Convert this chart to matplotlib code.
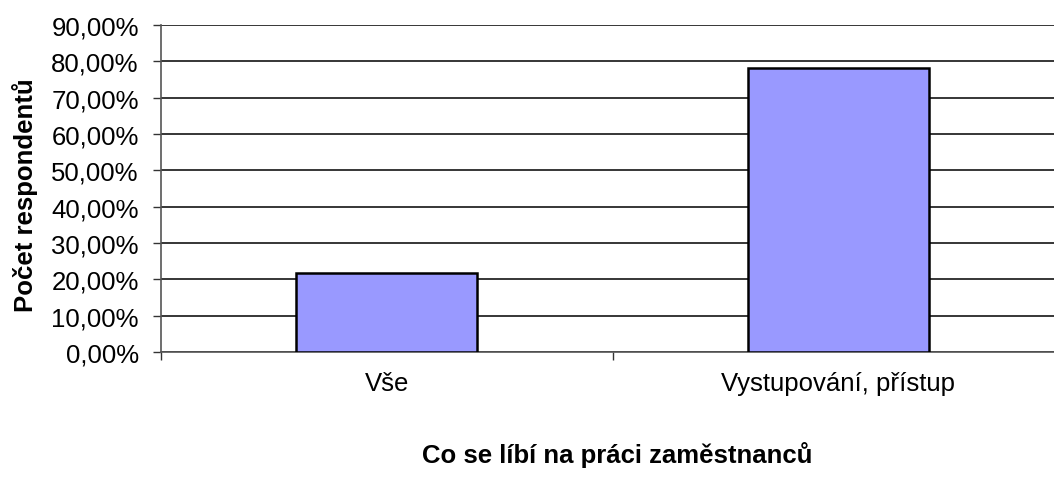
import matplotlib.pyplot as plt
from matplotlib.ticker import FuncFormatter

categories = ["Vše", "Vystupování, přístup"]
values = [21.7, 78.3]
yticks = list(range(0, 100, 10))

plt.rcParams['font.family'] = ['Liberation Sans', 'DejaVu Sans']

fig = plt.figure(figsize=(10.54, 4.81), dpi=100)
# plocha grafu je vpravo oříznutá jako v originále
ax = fig.add_axes([161 / 1054, 128 / 481, 903 / 1054, 327 / 481])

x = range(len(categories))
ax.bar(x, values, width=0.40, color="#9999FF", edgecolor="black", linewidth=1.8, zorder=3)

ax.set_ylim(0, 90)
ax.set_xlim(-0.5, 1.5)
ax.set_yticks(yticks)
ax.yaxis.set_major_formatter(FuncFormatter(lambda v, p: "{:.2f}%".format(v).replace(".", ",")))
ax.grid(axis="y", color="black", linewidth=1.1, zorder=0)

# tiky mezi kategoriemi, popisky uprostřed
ax.set_xticks([-0.5, 0.5, 1.5])
ax.set_xticklabels([])
ax.set_xticks(list(x), minor=True)
ax.set_xticklabels(categories, minor=True)
ax.tick_params(axis="x", which="major", length=6, width=1, color="#333333", direction="out")
ax.tick_params(axis="x", which="minor", length=0, pad=14, labelsize=18.5)
ax.tick_params(axis="y", length=6, width=1, color="#333333", pad=10, labelsize=18.5)

for s in ["top", "right"]:
    ax.spines[s].set_visible(False)
ax.spines["left"].set_color("#555555")
ax.spines["bottom"].set_color("#555555")
ax.spines["left"].set_linewidth(1.2)
ax.spines["bottom"].set_linewidth(1.2)

fig.text(25 / 1054, 1 - 195 / 481, "Počet respondentů", rotation=90, fontsize=18.5,
         fontweight="bold", ha="center", va="center")
fig.text(617 / 1054, 1 - 455 / 481, "Co se líbí na práci zaměstnanců", fontsize=18.5,
         fontweight="bold", ha="center", va="center")

fig.savefig("out.png", dpi=100)
